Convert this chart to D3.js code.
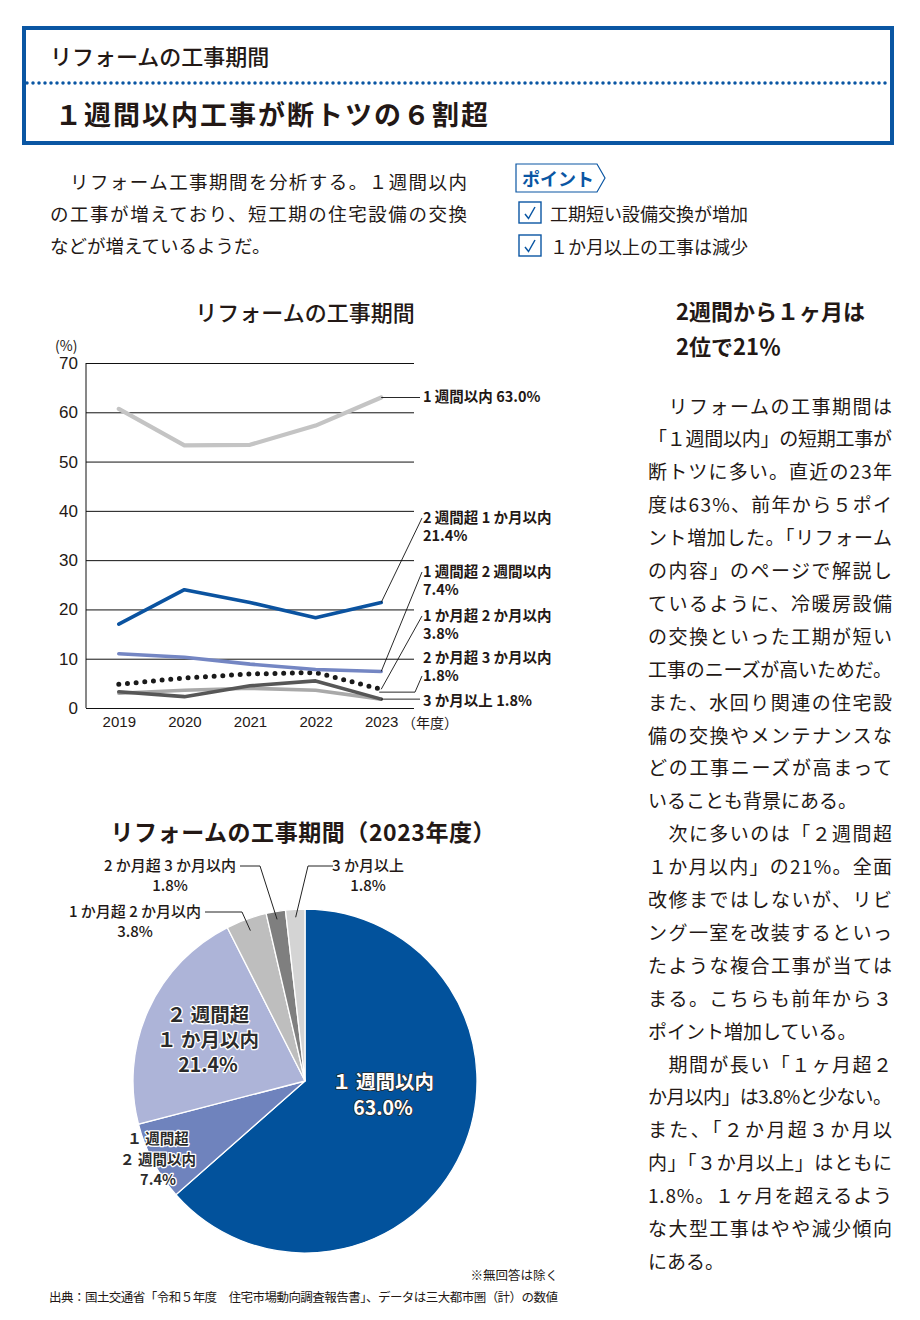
<!DOCTYPE html>
<html>
<head>
<meta charset="utf-8">
<script src="https://cdn.jsdelivr.net/npm/d3@7"></script>
<style>
  body { margin: 0; background: #fff; }
  svg { display: block; }
</style>
</head>
<body>
<div id="page"></div>
<script>
//fonts and colours
var SANS = "'Noto Sans CJK JP', 'Noto Sans', sans-serif";
var NARROW = "'Liberation Sans Narrow', 'Liberation Sans', sans-serif";
var INK = "#231815";
var BLUE = "#0a56a3";

//line chart data (%)
var years = ["2019", "2020", "2021", "2022", "2023"];
var seriesNames = ["1週間以内", "2週間超1か月以内", "1週間超2週間以内", "1か月超2か月以内", "2か月超3か月以内", "3か月以上"];
var within1w = [60.7, 53.3, 53.4, 57.3, 63.0];
var over2wTo1m = [17.0, 24.0, 21.4, 18.3, 21.4];
var over1wTo2w = [11.0, 10.3, 8.9, 7.8, 7.4];
var over1mTo2m = [4.8, 6.1, 6.9, 7.2, 3.8];
var over2mTo3m = [3.3, 2.3, 4.5, 5.5, 1.8];
var over3m = [3.0, 3.6, 4.0, 3.6, 1.8];
var yTicks = [0, 10, 20, 30, 40, 50, 60, 70];

//pie data (2023, %), clockwise from the top
var pieNames = ["1週間以内", "1週間超2週間以内", "2週間超1か月以内", "1か月超2か月以内", "2か月超3か月以内", "3か月以上"];
var pieValues = [63.0, 7.4, 21.4, 3.8, 1.8, 1.8];

//texts
var headerSub = "リフォームの工事期間";
var headerTitle = "１週間以内工事が断トツの６割超";
var introLines = ["　リフォーム工事期間を分析する。１週間以内", "の工事が増えており、短工期の住宅設備の交換", "などが増えているようだ。"];
var pointItems = ["工期短い設備交換が増加", "１か月以上の工事は減少"];
var sideHeading = ["2週間から１ヶ月は", "2位で21％"];
var bodyParagraphs = [
    ["　リフォームの工事期間は", "「１週間以内」の短期工事が", "断トツに多い。直近の23年", "度は63%、前年から５ポイ", "ント増加した。「リフォーム", "の内容」のページで解説し", "ているように、冷暖房設備", "の交換といった工期が短い", "工事のニーズが高いためだ。", "また、水回り関連の住宅設", "備の交換やメンテナンスな", "どの工事ニーズが高まって", "いることも背景にある。"],
    ["　次に多いのは「２週間超", "１か月以内」の21%。全面", "改修まではしないが、リビ", "ング一室を改装するといっ", "たような複合工事が当ては", "まる。こちらも前年から３", "ポイント増加している。"],
    ["　期間が長い「１ヶ月超２", "か月以内」は3.8%と少ない。", "また、「２か月超３か月以", "内」「３か月以上」はともに", "1.8%。１ヶ月を超えるよう", "な大型工事はやや減少傾向", "にある。"]
];

var svg = d3.select("#page").append("svg")
    .attr("width", 920)
    .attr("height", 1320)
    .style("font-family", SANS);

//header box
svg.append("rect")
    .attr("x", 24).attr("y", 28)
    .attr("width", 868).attr("height", 115)
    .attr("fill", "none")
    .attr("stroke", BLUE)
    .attr("stroke-width", 4);

svg.append("line")
    .attr("x1", 27).attr("x2", 890)
    .attr("y1", 83).attr("y2", 83)
    .attr("stroke", BLUE)
    .attr("stroke-width", 3.5)
    .attr("stroke-linecap", "round")
    .attr("stroke-dasharray", "0 6");

svg.append("text")
    .attr("x", 50).attr("y", 55)
    .attr("dominant-baseline", "central")
    .attr("font-size", 22).attr("font-weight", 500)
    .attr("fill", INK)
    .text(headerSub);

svg.append("text")
    .attr("x", 55).attr("y", 113)
    .attr("dominant-baseline", "central")
    .attr("font-size", 27).attr("font-weight", 700)
    .attr("textLength", 433).attr("lengthAdjust", "spacing")
    .attr("fill", INK)
    .text(headerTitle);

//intro text
svg.append("g").selectAll("text")
    .data(introLines)
    .enter()
    .append("text")
    .attr("x", 50)
    .attr("y", (d, i) => 181 + i * 32)
    .attr("dominant-baseline", "central")
    .attr("font-size", 18.5)
    .attr("fill", INK)
    .attr("textLength", (d, i) => i < introLines.length - 1 ? 417 : null)
    .attr("lengthAdjust", "spacing")
    .text(d => d);

//point tag
svg.append("path")
    .attr("d", "M516,164H597L605,178L597,192H516Z")
    .attr("fill", "#fff")
    .attr("stroke", BLUE)
    .attr("stroke-width", 1.2);
svg.append("text")
    .attr("x", 522).attr("y", 178)
    .attr("dominant-baseline", "central")
    .attr("font-size", 18).attr("font-weight", 700)
    .attr("fill", BLUE)
    .text("ポイント");

var pointGroup = svg.append("g").selectAll("g")
    .data(pointItems)
    .enter()
    .append("g")
    .attr("transform", (d, i) => `translate(519, ${202 + i * 33})`);
pointGroup.append("rect")
    .attr("width", 22).attr("height", 21)
    .attr("fill", "#fff")
    .attr("stroke", BLUE)
    .attr("stroke-width", 1.4);
pointGroup.append("path")
    .attr("d", "M6,12L9.5,16.5L16,5")
    .attr("fill", "none")
    .attr("stroke", BLUE)
    .attr("stroke-width", 1.5);
pointGroup.append("text")
    .attr("x", 31).attr("y", 10.5)
    .attr("dominant-baseline", "central")
    .attr("font-size", 18)
    .attr("fill", INK)
    .text(d => d);

//===== line chart =====
var lineChart = svg.append("g");

lineChart.append("text")
    .attr("x", 305).attr("y", 311)
    .attr("text-anchor", "middle")
    .attr("dominant-baseline", "central")
    .attr("font-size", 22).attr("font-weight", 500)
    .attr("fill", INK)
    .text("リフォームの工事期間");

var xPoint = d3.scalePoint()
    .domain(years)
    .range([86, 414])
    .padding(0.5);

var yLinear = d3.scaleLinear()
    .domain([0, 70])
    .range([708, 363]);

//gridlines + y labels
var leftAxis = d3.axisLeft(yLinear)
    .tickValues(yTicks)
    .tickSize(-328)
    .tickPadding(8);

var yAxis = lineChart.append("g")
    .attr("transform", "translate(86, 0)")
    .call(leftAxis);
yAxis.select(".domain").remove();
yAxis.selectAll(".tick line").attr("stroke", "#111").attr("stroke-width", 1);
yAxis.selectAll(".tick text")
    .attr("font-family", NARROW)
    .attr("font-size", 17)
    .attr("fill", INK);

lineChart.append("line")
    .attr("x1", 86).attr("x2", 86)
    .attr("y1", 363).attr("y2", 708)
    .attr("stroke", "#111");

lineChart.append("text")
    .attr("x", 55).attr("y", 345)
    .attr("dominant-baseline", "central")
    .attr("font-size", 14)
    .attr("fill", INK)
    .text("(%)");

//x labels
var bottomAxis = d3.axisBottom(xPoint).tickSize(0).tickPadding(8);
var xAxis = lineChart.append("g")
    .attr("transform", "translate(0, 708)")
    .call(bottomAxis);
xAxis.select(".domain").remove();
xAxis.selectAll(".tick text")
    .attr("font-family", NARROW)
    .attr("font-size", 15)
    .attr("fill", INK);

lineChart.append("text")
    .attr("x", 402).attr("y", 722)
    .attr("dominant-baseline", "central")
    .attr("font-size", 14)
    .attr("fill", INK)
    .text("（年度）");

//series styles
var seriesValues = [within1w, over2wTo1m, over1wTo2w, over1mTo2m, over2mTo3m, over3m];
var seriesStyle = [
    { color: "#c4c4c4", width: 4.2, dash: null },
    { color: "#0b53a0", width: 3.6, dash: null },
    { color: "#7486c3", width: 3.6, dash: null },
    { color: "#1a1a1a", width: 5, dash: "0 8.7" },
    { color: "#575757", width: 3.6, dash: null },
    { color: "#a9a9a9", width: 3.6, dash: null }
];
var drawOrder = [5, 4, 3, 2, 1, 0];

var lineGen = d3.line()
    .x((d, i) => xPoint(years[i]))
    .y(d => yLinear(d));

lineChart.append("g").selectAll("path")
    .data(drawOrder)
    .enter()
    .append("path")
    .attr("d", k => lineGen(seriesValues[k]))
    .attr("fill", "none")
    .attr("stroke", k => seriesStyle[k].color)
    .attr("stroke-width", k => seriesStyle[k].width)
    .attr("stroke-linecap", "round")
    .attr("stroke-linejoin", "round")
    .attr("stroke-dasharray", k => seriesStyle[k].dash);

//end labels
var last = years.length - 1;
var xEnd = xPoint(years[last]);
var labelX = 423;
var endLabels = [
    { k: 0, lines: ["1 週間以内  63.0%"], y: 397 },
    { k: 1, lines: ["2 週間超 1 か月以内", "21.4%"], y: 518 },
    { k: 2, lines: ["1 週間超 2 週間以内", "7.4%"], y: 572 },
    { k: 3, lines: ["1 か月超 2 か月以内", "3.8%"], y: 616 },
    { k: 4, lines: ["2 か月超 3 か月以内", "1.8%"], y: 658 },
    { k: 5, lines: ["3 か月以上  1.8%"], y: 701 }
];

function leaderPath(lab) {
    var v = seriesValues[lab.k][last];
    var y0 = yLinear(v);
    if (lab.k === 0 || lab.k === 5) {
        return `M${xEnd},${y0}H${labelX - 3}`;
    }
    if (lab.k === 4) {
        var yh = y0 - 7;
        return `M${xEnd - 2},${yh}H${labelX - 8}L${labelX - 1},${lab.y + 18}`;
    }
    return `M${xEnd},${y0}L${labelX - 1},${lab.y}`;
}

lineChart.append("g").selectAll("path")
    .data(endLabels)
    .enter()
    .append("path")
    .attr("d", leaderPath)
    .attr("fill", "none")
    .attr("stroke", "#111")
    .attr("stroke-width", 0.9);

var endText = lineChart.append("g").selectAll("text")
    .data(endLabels)
    .enter()
    .append("text")
    .attr("x", labelX)
    .attr("y", d => d.y)
    .attr("font-size", 14.5)
    .attr("font-weight", 700)
    .attr("fill", INK);
endText.selectAll("tspan")
    .data(d => d.lines)
    .enter()
    .append("tspan")
    .attr("x", labelX)
    .attr("dy", (d, i) => i === 0 ? "0.35em" : 18)
    .text(d => d);

//===== pie chart =====
var pieChart = svg.append("g");

pieChart.append("text")
    .attr("x", 303).attr("y", 831)
    .attr("text-anchor", "middle")
    .attr("dominant-baseline", "central")
    .attr("font-size", 23).attr("font-weight", 700)
    .attr("fill", INK)
    .attr("textLength", 385).attr("lengthAdjust", "spacing")
    .text("リフォームの工事期間（2023年度）");

var cx = 305, cy = 1081, radius = 172;
var pieColors = ["#02529c", "#6f83bd", "#adb4d8", "#bebebe", "#7f7f7f", "#d4d4d4"];

var pieGen = d3.pie().sort(null).value(d => d);
var arcs = pieGen(pieValues);
var arcGen = d3.arc().innerRadius(0).outerRadius(radius);
var pieG = pieChart.append("g").attr("transform", `translate(${cx}, ${cy})`);

pieG.selectAll("path")
    .data(arcs)
    .enter()
    .append("path")
    .attr("d", arcGen)
    .attr("fill", (d, i) => pieColors[i])
    .attr("stroke", "#fff")
    .attr("stroke-width", 1.3);

//inside labels
var insideLabels = [
    { i: 0, lines: ["１ 週間以内", "63.0%"], dx: 78, dy: 1, size: 19.5, step: 26, light: true },
    { i: 2, lines: ["２ 週間超", "１ か月以内", "21.4%"], dx: -97, dy: -66, size: 19.5, step: 25, light: false },
    { i: 1, lines: ["１ 週間超", "２ 週間以内", "7.4%"], dx: -147, dy: 58, size: 14.5, step: 20.5, light: false }
];

var inText = pieG.append("g").selectAll("text")
    .data(insideLabels)
    .enter()
    .append("text")
    .attr("text-anchor", "middle")
    .attr("font-size", d => d.size)
    .attr("font-weight", 700)
    .attr("fill", d => d.light ? "#fff" : "#2b2b2b")
    .attr("stroke", d => d.light ? "#2a2a2a" : "#fff")
    .attr("stroke-width", d => d.light ? 1.6 : 2.6)
    .attr("stroke-linejoin", "round")
    .attr("paint-order", "stroke");
inText.each(function(d) {
    d3.select(this).selectAll("tspan")
        .data(d.lines)
        .enter()
        .append("tspan")
        .attr("x", d.dx)
        .attr("y", (t, j) => d.dy + j * d.step)
        .attr("dy", "0.35em")
        .text(t => t);
});

//outside labels with leaders
var outsideLabels = [
    { i: 3, lines: ["1 か月超 2 か月以内", "3.8%"], tx: -170, ty: -169, side: "left", elbow: -63, r: 160 },
    { i: 4, lines: ["2 か月超 3 か月以内", "1.8%"], tx: -135, ty: -215, side: "left", elbow: -45, r: 164 },
    { i: 5, lines: ["3 か月以上", "1.8%"], tx: 63, ty: -215, side: "right", elbow: 3, r: 164 }
];

function sliceEnd(d) {
    var a = arcs[d.i];
    var mid = (a.startAngle + a.endAngle) / 2;
    return [d.r * Math.sin(mid), -d.r * Math.cos(mid)];
}

pieG.append("g").selectAll("path")
    .data(outsideLabels)
    .enter()
    .append("path")
    .attr("d", d => {
        var p = sliceEnd(d);
        var start = d.side === "left" ? d.tx + 70 : d.tx - 35;
        return `M${start},${d.ty}H${d.elbow}L${p[0]},${p[1]}`;
    })
    .attr("fill", "none")
    .attr("stroke", "#222")
    .attr("stroke-width", 1);

var outText = pieG.append("g").selectAll("text")
    .data(outsideLabels)
    .enter()
    .append("text")
    .attr("text-anchor", "middle")
    .attr("font-size", 15)
    .attr("font-weight", 500)
    .attr("fill", INK);
outText.each(function(d) {
    d3.select(this).selectAll("tspan")
        .data(d.lines)
        .enter()
        .append("tspan")
        .attr("x", d.tx)
        .attr("y", (t, j) => d.ty + j * 20)
        .attr("dy", "0.35em")
        .text(t => t);
});

//footnotes
svg.append("text")
    .attr("x", 558).attr("y", 1274)
    .attr("text-anchor", "end")
    .attr("dominant-baseline", "central")
    .attr("font-size", 12.5)
    .attr("fill", INK)
    .text("※無回答は除く");
svg.append("text")
    .attr("x", 49).attr("y", 1296)
    .attr("dominant-baseline", "central")
    .attr("font-size", 12.5)
    .attr("fill", INK)
    .attr("textLength", 509).attr("lengthAdjust", "spacing")
    .text("出典：国土交通省「令和５年度　住宅市場動向調査報告書」、データは三大都市圏（計）の数値");

//===== right column =====
svg.append("g").selectAll("text")
    .data(sideHeading)
    .enter()
    .append("text")
    .attr("x", 676)
    .attr("y", (d, i) => 310 + i * 35)
    .attr("dominant-baseline", "central")
    .attr("font-size", 22).attr("font-weight", 700)
    .attr("fill", INK)
    .text(d => d);

var bodyLines = [];
bodyParagraphs.forEach(function(para) {
    para.forEach(function(line, j) {
        bodyLines.push({ text: line, full: j < para.length - 1 });
    });
});

svg.append("g").selectAll("text")
    .data(bodyLines)
    .enter()
    .append("text")
    .attr("x", 648)
    .attr("y", (d, i) => 405 + i * 32.9)
    .attr("dominant-baseline", "central")
    .attr("font-size", 19)
    .attr("fill", INK)
    .attr("textLength", d => d.full ? 244 : null)
    .attr("lengthAdjust", "spacing")
    .text(d => d.text);
</script>
</body>
</html>
